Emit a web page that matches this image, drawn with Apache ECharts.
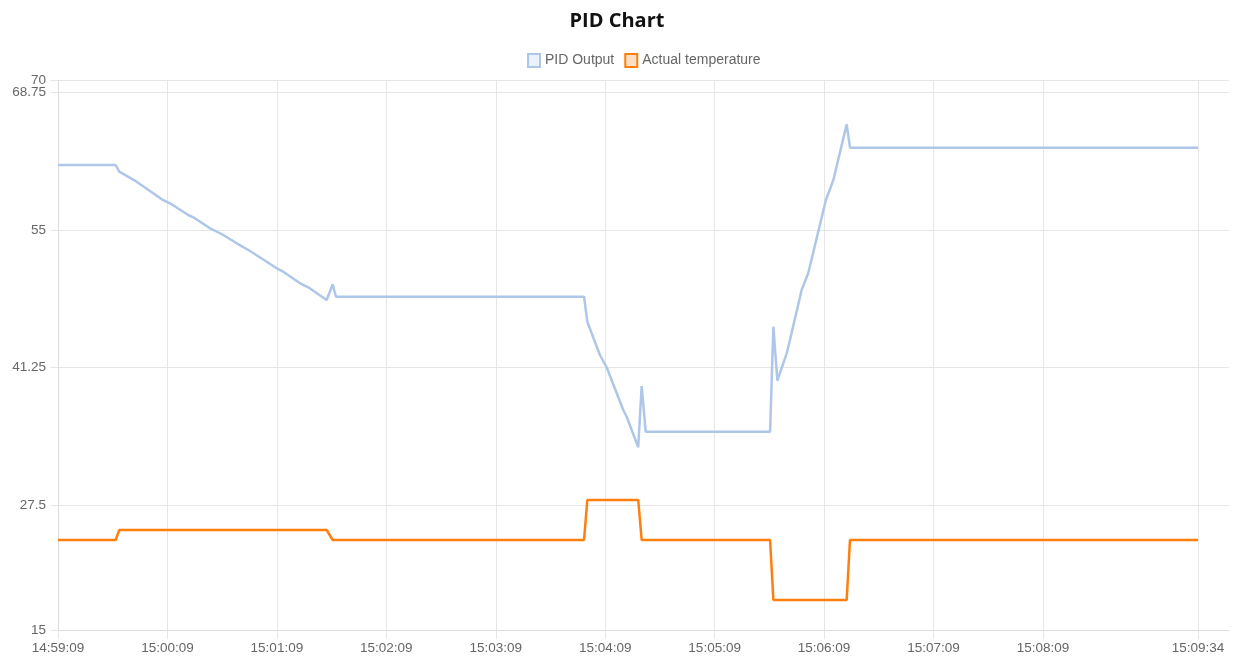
<!DOCTYPE html>
<html>
<head>
<meta charset="utf-8">
<script src="https://cdn.jsdelivr.net/npm/echarts@6/dist/echarts.min.js"></script>
<style>
  html, body { margin: 0; padding: 0; background: #fff; }
  #chart { width: 1234px; height: 659px; }
</style>
</head>
<body>
<div id="chart"></div>
<script>
// Start of the record: 14:59:09. Times are seconds after the start.
const startTime = '14:59:09';
const xTickSeconds = [0, 60, 120, 180, 240, 300, 360, 420, 480, 540, 625];
const yTickValues = [15, 27.5, 41.25, 55, 68.75];
const yMaxTick = [70];

const pidTimes = [0, 31.6, 33.6, 43.1, 56.9, 61.4, 71.4, 74.2, 83.3, 89.7, 98, 105.3, 119.9, 123.5, 132.7, 137.2, 147.3, 150.6, 152.4,
  288.4, 290.2, 297.1, 300.8, 309.9, 311.8, 318.1, 320, 322.2,
  390.4, 392.2, 394.4, 399.5, 401.3, 407.7, 411.3, 421, 425.1, 432.4, 434.2, 625];
const pidOutput = [61.5, 61.5, 60.83, 59.83, 58.07, 57.67, 56.5, 56.27, 55.17, 54.6, 53.67, 52.9, 51.17, 50.83, 49.67, 49.27, 48.0, 49.57, 48.33,
  48.33, 45.83, 42.5, 41.27, 37.0, 36.33, 33.27, 39.4, 34.83,
  34.83, 45.33, 39.93, 42.67, 44.0, 49.0, 50.67, 58.0, 60.0, 65.57, 63.23, 63.23];

const tempTimes = [0, 31.6, 33.6, 147.3, 150.6, 288.4, 290.2, 318.1, 320, 390.4, 392.2, 432.4, 434.2, 625];
const actualTemp = [24, 24, 25, 25, 24, 24, 28, 28, 24, 24, 18, 18, 24, 24];

function toClock(sec) {
  const p = startTime.split(':').map(Number);
  let total = p[0] * 3600 + p[1] * 60 + p[2] + Math.round(sec);
  const h = Math.floor(total / 3600) % 24;
  const m = Math.floor((total % 3600) / 60);
  const s = total % 60;
  const pad = n => String(n).padStart(2, '0');
  return pad(h) + ':' + pad(m) + ':' + pad(s);
}

const pidData = pidTimes.map((t, i) => [t, pidOutput[i]]);
const tempData = tempTimes.map((t, i) => [t, actualTemp[i]]);

const gridColor = '#e6e6e6';
const labelFont = { color: '#666', fontSize: 13.5, fontFamily: 'Liberation Sans, Arial, sans-serif' };

const chart = echarts.init(document.getElementById('chart'), null, { renderer: 'canvas' });
chart.setOption({
  animation: false,
  backgroundColor: '#fff',
  title: {
    text: 'PID Chart',
    left: 'center',
    top: 6,
    textStyle: { fontSize: 20, fontWeight: 'bold', color: '#111', fontFamily: 'Open Sans, Noto Sans, sans-serif' }
  },
  legend: {
    top: 48,
    left: 522,
    icon: 'rect',
    itemWidth: 12,
    itemHeight: 13,
    itemGap: 10,
    textStyle: { color: '#666', fontSize: 14, fontFamily: 'Liberation Sans, Arial, sans-serif' },
    data: [
      { name: 'PID Output', itemStyle: { color: 'rgba(174,199,232,0.25)', borderColor: '#aec7e8', borderWidth: 2 } },
      { name: 'Actual temperature', itemStyle: { color: 'rgba(255,127,14,0.25)', borderColor: '#ff7f0e', borderWidth: 2 } }
    ]
  },
  grid: { left: 58, right: 5, top: 80, bottom: 29, containLabel: false },
  xAxis: {
    type: 'value',
    min: 0,
    max: 642,
    axisLine: { show: true, lineStyle: { color: '#ddd', width: 1 } },
    axisTick: { show: true, length: 9, lineStyle: { color: gridColor }, customValues: xTickSeconds },
    axisLabel: Object.assign({ margin: 11, customValues: xTickSeconds, formatter: v => toClock(v), hideOverlap: false }, labelFont),
    splitLine: { show: true, lineStyle: { color: gridColor, width: 1 } }
  },
  yAxis: [
    {
      type: 'value',
      min: 15,
      max: 70,
      axisLine: { show: true, lineStyle: { color: '#ddd', width: 1 } },
      axisTick: { show: true, length: 8, lineStyle: { color: gridColor }, customValues: yTickValues },
      axisLabel: Object.assign({ margin: 12, customValues: yTickValues }, labelFont),
      splitLine: { show: true, lineStyle: { color: gridColor, width: 1 } }
    },
    {
      type: 'value',
      position: 'left',
      offset: 0,
      min: 15,
      max: 70,
      axisLine: { show: false },
      axisTick: { show: true, length: 8, lineStyle: { color: gridColor }, customValues: yMaxTick },
      axisLabel: Object.assign({ margin: 12, customValues: yMaxTick }, labelFont),
      splitLine: { show: true, lineStyle: { color: gridColor, width: 1 } }
    }
  ],
  series: [
    {
      name: 'PID Output',
      type: 'line',
      yAxisIndex: 0,
      data: pidData,
      showSymbol: false,
      symbol: 'none',
      lineStyle: { color: '#aec7e8', width: 2.5 },
      itemStyle: { color: '#aec7e8' }
    },
    {
      name: 'Actual temperature',
      type: 'line',
      yAxisIndex: 0,
      data: tempData,
      showSymbol: false,
      symbol: 'none',
      lineStyle: { color: '#ff7f0e', width: 2.5 },
      itemStyle: { color: '#ff7f0e' }
    }
  ]
});
</script>
</body>
</html>
